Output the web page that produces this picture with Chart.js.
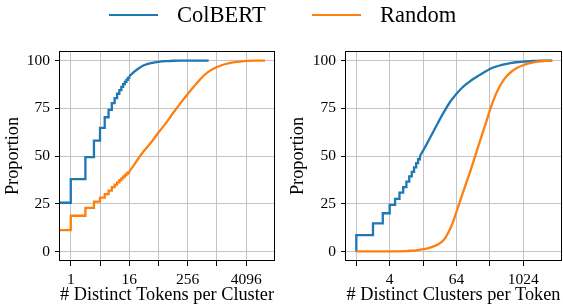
<!DOCTYPE html>
<html>
<head>
<meta charset="utf-8">
<script src="https://cdn.jsdelivr.net/npm/chart.js@4.4.0/dist/chart.umd.min.js"></script>
<style>
  html, body { margin:0; padding:0; background:#fff; }
  #wrap { position:relative; width:563px; height:304px; overflow:hidden; font-family:"Liberation Serif", "Times New Roman", serif; }
  canvas { position:absolute; top:0; }
  #cvLeft { left:0; }
  #cvRight { left:285px; }
  .leg { position:absolute; top:0; height:30px; display:flex; align-items:center; font-size:22.5px; color:#000; }
  .leg i { display:inline-block; width:49px; height:2px; margin-right:19px; }
</style>
</head>
<body>
<div id="wrap">
  <canvas id="cvLeft" width="285" height="304"></canvas>
  <canvas id="cvRight" width="278" height="304"></canvas>
  <div class="leg" style="left:109px"><i style="background:#1f77b4"></i>ColBERT</div>
  <div class="leg" style="left:312px"><i style="background:#ff7f0e"></i>Random</div>
</div>
<script>
const SERIES = ['ColBERT', 'Random'];
const COLORS = ['#1f77b4', '#ff7f0e'];
const Y_TICKS = [0, 25, 50, 75, 100];

// left: # distinct tokens per cluster (ECDF, %)
const leftStepX       = [0.5, 1, 2, 3, 4, 5, 6, 7, 8, 9, 10, 11, 12, 13, 14, 15, 16];
const leftColbertStep = [25.5, 37.9, 49.4, 58.1, 64.7, 70.3, 74.2, 77.7, 80.3, 82.6, 84.5, 86.2, 87.6, 88.8, 89.9, 90.9, 91.8];
const leftRandomStep  = [11.2, 18.7, 22.8, 26.1, 28.2, 30.0, 31.9, 33.7, 35.0, 36.2, 37.3, 38.3, 39.2, 40.0, 40.8, 41.4, 41.9];
const leftCurveX       = [16, 20, 24, 32, 48, 64, 96, 128, 192, 256, 384, 512, 690, 1024, 1536, 2048, 3072, 4096, 6144, 10000];
const leftColbertCurve = [91.8, 94.0, 95.6, 97.5, 98.8, 99.3, 99.7, 99.9, 100, 100, 100, 100, 100, null, null, null, null, null, null, null];
const leftRandomCurve  = [41.9, 45.2, 48.3, 52.6, 58.0, 62.3, 68.0, 72.5, 78.5, 82.5, 87.8, 91.4, 94.2, 96.6, 98.2, 98.9, 99.5, 99.8, 99.95, 100];
const leftTicks  = [1, 4, 16, 64, 256, 1024, 4096];
const leftLabels = [1, 16, 256, 4096];

// right: # distinct clusters per token (ECDF, %)
const rightStepX       = [1, 1, 2, 3, 4, 5, 6, 7, 8, 9, 10, 11, 12, 13, 14];
const rightColbertStep = [0, 8.6, 14.7, 20.0, 24.4, 27.5, 30.8, 33.7, 36.6, 39.3, 41.7, 44.0, 46.3, 48.3, 50.0];
const rightCurveX       = [1, 2, 4, 8, 10, 12, 14, 16, 20, 24, 28, 32, 40, 48, 56, 64, 80, 96, 112, 128, 160, 192, 224, 256, 320, 384, 448, 512, 640, 768, 1024, 1280, 1536, 2048, 2560, 3400];
const rightColbertCurve = [null, null, null, null, null, null, 50.0, 52.8, 58.0, 62.3, 66.0, 69.2, 74.2, 77.9, 80.5, 82.6, 85.6, 87.6, 89.1, 90.3, 92.1, 93.5, 94.6, 95.6, 96.7, 97.4, 97.9, 98.3, 98.8, 99.1, 99.4, 99.6, 99.8, 99.9, 100, 100];
const rightRandomCurve  = [0, 0, 0, 0.2, 0.4, 0.6, 0.9, 1.2, 1.8, 2.5, 3.3, 4.2, 7.0, 11.2, 15.8, 20.8, 29.2, 35.9, 41.6, 46.7, 55.6, 62.6, 68.6, 74.0, 81.6, 86.4, 89.6, 91.8, 94.4, 96.0, 97.6, 98.5, 99.1, 99.6, 99.8, 100];
const rightTicks  = [1, 4, 16, 64, 256, 1024];
const rightLabels = [4, 64, 1024];

const FONT = '"Liberation Serif", "Times New Roman", serif';

function pts(xs, ys){ return xs.map((x, i) => ({ x, y: ys[i] })); }

function line(data, color, stepped){
  return { data, borderColor: color, backgroundColor: color, borderWidth: 2.3,
           pointRadius: 0, fill: false, spanGaps: false,
           stepped: stepped ? 'before' : false,
           cubicInterpolationMode: stepped ? 'default' : 'monotone' };
}

const framePlugin = {
  id: 'frame',
  afterDraw(chart){
    const { ctx, chartArea: a } = chart;
    ctx.save();
    ctx.strokeStyle = '#000';
    ctx.lineWidth = 1;
    ctx.strokeRect(Math.round(a.left) - 0.5, Math.round(a.top) + 0.5, Math.round(a.right - a.left) + 1, Math.round(a.bottom - a.top) - 1);
    ctx.restore();
  }
};

function makeChart(id, o){
  return new Chart(document.getElementById(id), {
    type: 'line',
    data: { datasets: o.datasets },
    plugins: [framePlugin],
    options: {
      responsive: false, animation: false,
      layout: { padding: { top: 51, right: o.padRight, left: 0, bottom: 0 } },
      plugins: { legend: { display: false }, tooltip: { enabled: false } },
      scales: {
        x: {
          type: 'logarithmic', min: o.xMin, max: o.xMax,
          afterBuildTicks: s => { s.ticks = o.ticks.map(v => ({ value: v })); },
          afterFit: s => { s.height = 43; },
          ticks: { autoSkip: false, maxRotation: 0, padding: 5, color: '#000',
                   font: { family: FONT, size: 15.5 },
                   callback: v => o.labels.includes(v) ? String(v) : '' },
          grid: { color: '#c4c4c4', lineWidth: 1, tickLength: 5, tickColor: '#000' },
          border: { display: false },
          title: { display: true, text: o.title, color: '#000', padding: { top: 0, bottom: 0 },
                   font: { family: FONT, size: 18.3, lineHeight: 1 } }
        },
        y: {
          type: 'linear', min: -5, max: 105,
          afterBuildTicks: s => { s.ticks = Y_TICKS.map(v => ({ value: v })); },
          afterFit: s => { s.width = o.yWidth; },
          ticks: { padding: 5, color: '#000', font: { family: FONT, size: 15.5 } },
          grid: { color: '#c4c4c4', lineWidth: 1, tickLength: 5, tickColor: '#000' },
          border: { display: false },
          title: { display: true, text: 'Proportion', color: '#000', padding: { top: 2, bottom: 0 },
                   font: { family: FONT, size: 18.3, lineHeight: 1.2 } }
        }
      }
    }
  });
}

makeChart('cvLeft', {
  xMin: 0.633, xMax: 15300, padRight: 11, yWidth: 60,
  ticks: leftTicks, labels: leftLabels, title: '# Distinct Tokens per Cluster',
  datasets: [
    line(pts(leftStepX, leftColbertStep), COLORS[0], true),
    line(pts(leftCurveX, leftColbertCurve), COLORS[0], false),
    line(pts(leftStepX, leftRandomStep), COLORS[1], true),
    line(pts(leftCurveX, leftRandomCurve), COLORS[1], false)
  ]
});

makeChart('cvRight', {
  xMin: 0.652, xMax: 4900, padRight: 2, yWidth: 61,
  ticks: rightTicks, labels: rightLabels, title: '# Distinct Clusters per Token',
  datasets: [
    line(pts(rightCurveX, rightRandomCurve), COLORS[1], false),
    line(pts(rightStepX, rightColbertStep), COLORS[0], true),
    line(pts(rightCurveX, rightColbertCurve), COLORS[0], false)
  ]
});
</script>
</body>
</html>
